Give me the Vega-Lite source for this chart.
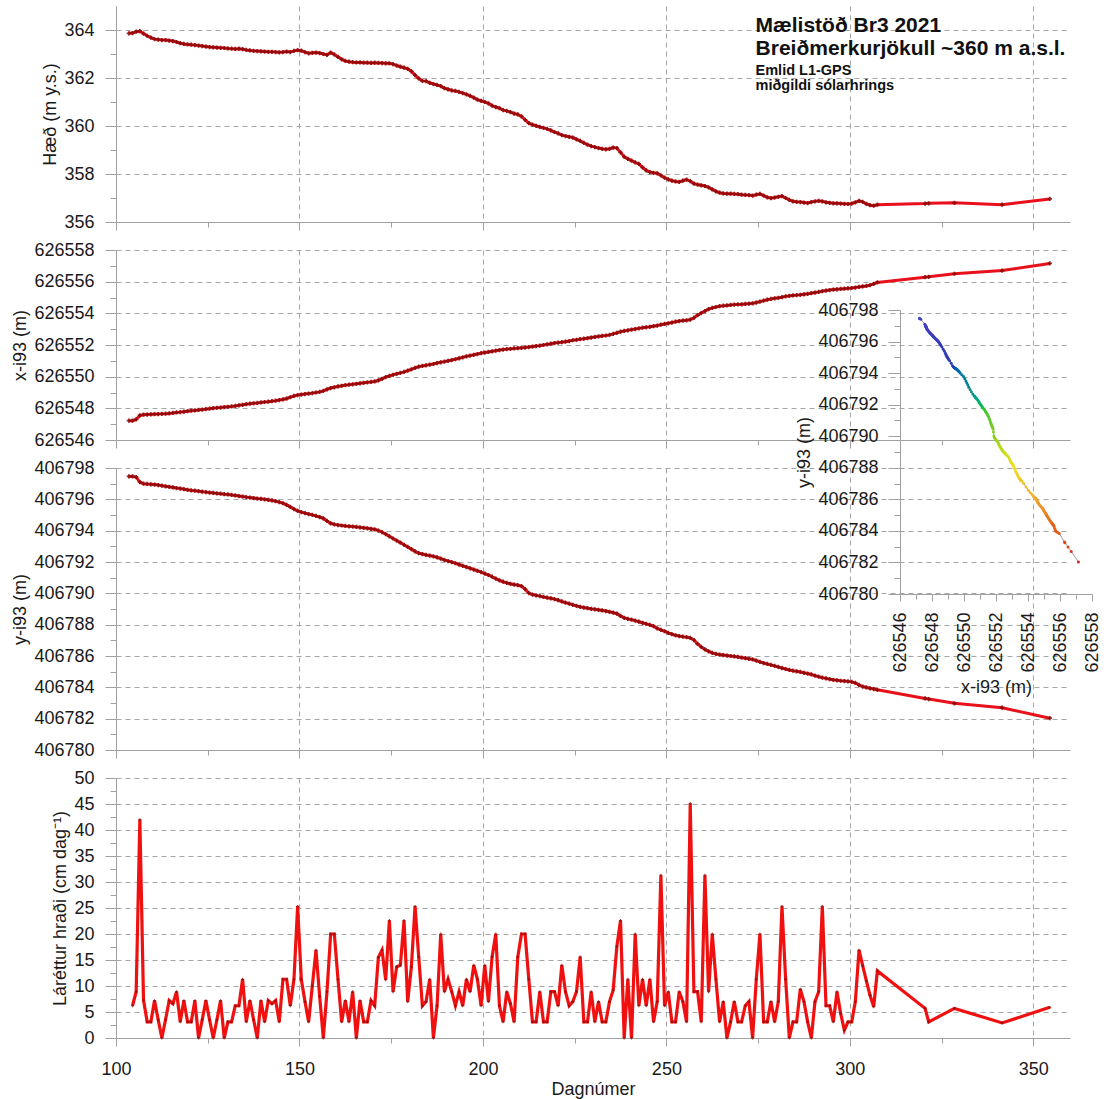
{
"$schema": "https://vega.github.io/schema/vega-lite/v6.json",
"padding": {"left": 11, "top": 6, "right": 5, "bottom": 2},
"autosize": {"type": "pad"},
"spacing": 28,
"bounds": "flush",
"config": {
  "font": "Liberation Sans",
  "view": {"stroke": null},
  "axis": {"labelFont": "Liberation Sans", "titleFont": "Liberation Sans", "labelFontSize": 18, "titleFontSize": 18, "titleFontWeight": "normal", "labelColor": "#1a1a1a", "titleColor": "#1a1a1a", "domainColor": "#a0a0a0", "tickColor": "#a0a0a0", "gridColor": "#a6a6a6", "gridDash": [5, 4], "gridWidth": 1, "labelOverlap": false, "labelFlush": false}
},
"datasets": {
"gps": [
{"day":103.5,"h":363.86,"x":626547.22,"y":406797.47},
{"day":104.5,"h":363.87,"x":626547.22,"y":406797.46},
{"day":105.5,"h":363.93,"x":626547.30,"y":406797.42},
{"day":106.5,"h":363.95,"x":626547.55,"y":406797.10},
{"day":107.5,"h":363.85,"x":626547.60,"y":406797.00},
{"day":108.5,"h":363.76,"x":626547.61,"y":406796.98},
{"day":109.5,"h":363.68,"x":626547.62,"y":406796.96},
{"day":110.5,"h":363.62,"x":626547.63,"y":406796.94},
{"day":111.5,"h":363.60,"x":626547.64,"y":406796.91},
{"day":112.5,"h":363.58,"x":626547.65,"y":406796.87},
{"day":113.5,"h":363.58,"x":626547.66,"y":406796.83},
{"day":114.5,"h":363.56,"x":626547.68,"y":406796.80},
{"day":115.5,"h":363.54,"x":626547.71,"y":406796.76},
{"day":116.5,"h":363.50,"x":626547.74,"y":406796.72},
{"day":117.5,"h":363.45,"x":626547.76,"y":406796.69},
{"day":118.5,"h":363.42,"x":626547.79,"y":406796.65},
{"day":119.5,"h":363.40,"x":626547.82,"y":406796.61},
{"day":120.5,"h":363.39,"x":626547.85,"y":406796.57},
{"day":121.5,"h":363.37,"x":626547.87,"y":406796.55},
{"day":122.5,"h":363.35,"x":626547.90,"y":406796.52},
{"day":123.5,"h":363.33,"x":626547.92,"y":406796.49},
{"day":124.5,"h":363.31,"x":626547.95,"y":406796.46},
{"day":125.5,"h":363.29,"x":626547.98,"y":406796.43},
{"day":126.5,"h":363.28,"x":626548.01,"y":406796.41},
{"day":127.5,"h":363.27,"x":626548.03,"y":406796.38},
{"day":128.5,"h":363.26,"x":626548.05,"y":406796.36},
{"day":129.5,"h":363.25,"x":626548.08,"y":406796.33},
{"day":130.5,"h":363.23,"x":626548.10,"y":406796.31},
{"day":131.5,"h":363.22,"x":626548.12,"y":406796.28},
{"day":132.5,"h":363.21,"x":626548.15,"y":406796.25},
{"day":133.5,"h":363.22,"x":626548.19,"y":406796.21},
{"day":134.5,"h":363.20,"x":626548.22,"y":406796.18},
{"day":135.5,"h":363.17,"x":626548.26,"y":406796.14},
{"day":136.5,"h":363.15,"x":626548.29,"y":406796.11},
{"day":137.5,"h":363.13,"x":626548.32,"y":406796.08},
{"day":138.5,"h":363.12,"x":626548.34,"y":406796.05},
{"day":139.5,"h":363.11,"x":626548.37,"y":406796.03},
{"day":140.5,"h":363.10,"x":626548.40,"y":406796.00},
{"day":141.5,"h":363.09,"x":626548.42,"y":406795.97},
{"day":142.5,"h":363.09,"x":626548.45,"y":406795.93},
{"day":143.5,"h":363.08,"x":626548.48,"y":406795.88},
{"day":144.5,"h":363.07,"x":626548.52,"y":406795.82},
{"day":145.5,"h":363.08,"x":626548.56,"y":406795.75},
{"day":146.5,"h":363.10,"x":626548.62,"y":406795.65},
{"day":147.5,"h":363.08,"x":626548.70,"y":406795.52},
{"day":148.5,"h":363.13,"x":626548.78,"y":406795.38},
{"day":149.5,"h":363.16,"x":626548.84,"y":406795.26},
{"day":150.5,"h":363.14,"x":626548.87,"y":406795.18},
{"day":151.5,"h":363.08,"x":626548.90,"y":406795.12},
{"day":152.5,"h":363.03,"x":626548.93,"y":406795.06},
{"day":153.5,"h":363.05,"x":626548.96,"y":406795.01},
{"day":154.5,"h":363.06,"x":626549.00,"y":406794.94},
{"day":155.5,"h":363.04,"x":626549.04,"y":406794.87},
{"day":156.5,"h":363.00,"x":626549.10,"y":406794.78},
{"day":157.5,"h":362.96,"x":626549.20,"y":406794.62},
{"day":158.5,"h":363.06,"x":626549.28,"y":406794.47},
{"day":159.5,"h":362.98,"x":626549.33,"y":406794.40},
{"day":160.5,"h":362.88,"x":626549.38,"y":406794.36},
{"day":161.5,"h":362.78,"x":626549.42,"y":406794.33},
{"day":162.5,"h":362.71,"x":626549.46,"y":406794.30},
{"day":163.5,"h":362.68,"x":626549.49,"y":406794.28},
{"day":164.5,"h":362.66,"x":626549.52,"y":406794.26},
{"day":165.5,"h":362.65,"x":626549.55,"y":406794.24},
{"day":166.5,"h":362.65,"x":626549.58,"y":406794.21},
{"day":167.5,"h":362.64,"x":626549.61,"y":406794.18},
{"day":168.5,"h":362.64,"x":626549.64,"y":406794.15},
{"day":169.5,"h":362.63,"x":626549.67,"y":406794.12},
{"day":170.5,"h":362.64,"x":626549.70,"y":406794.08},
{"day":171.5,"h":362.63,"x":626549.76,"y":406794.01},
{"day":172.5,"h":362.62,"x":626549.86,"y":406793.90},
{"day":173.5,"h":362.61,"x":626549.97,"y":406793.78},
{"day":174.5,"h":362.61,"x":626550.05,"y":406793.64},
{"day":175.5,"h":362.58,"x":626550.12,"y":406793.50},
{"day":176.5,"h":362.52,"x":626550.18,"y":406793.37},
{"day":177.5,"h":362.47,"x":626550.24,"y":406793.24},
{"day":178.5,"h":362.43,"x":626550.30,"y":406793.10},
{"day":179.5,"h":362.38,"x":626550.38,"y":406792.96},
{"day":180.5,"h":362.28,"x":626550.46,"y":406792.82},
{"day":181.5,"h":362.12,"x":626550.55,"y":406792.68},
{"day":182.5,"h":361.98,"x":626550.63,"y":406792.56},
{"day":183.5,"h":361.88,"x":626550.68,"y":406792.51},
{"day":184.5,"h":361.87,"x":626550.72,"y":406792.45},
{"day":185.5,"h":361.80,"x":626550.76,"y":406792.41},
{"day":186.5,"h":361.75,"x":626550.80,"y":406792.36},
{"day":187.5,"h":361.71,"x":626550.86,"y":406792.30},
{"day":188.5,"h":361.66,"x":626550.91,"y":406792.22},
{"day":189.5,"h":361.58,"x":626550.95,"y":406792.14},
{"day":190.5,"h":361.53,"x":626551.00,"y":406792.06},
{"day":191.5,"h":361.48,"x":626551.05,"y":406791.99},
{"day":192.5,"h":361.46,"x":626551.10,"y":406791.92},
{"day":193.5,"h":361.42,"x":626551.16,"y":406791.84},
{"day":194.5,"h":361.37,"x":626551.22,"y":406791.76},
{"day":195.5,"h":361.32,"x":626551.28,"y":406791.68},
{"day":196.5,"h":361.26,"x":626551.33,"y":406791.60},
{"day":197.5,"h":361.18,"x":626551.38,"y":406791.52},
{"day":198.5,"h":361.10,"x":626551.43,"y":406791.44},
{"day":199.5,"h":361.05,"x":626551.48,"y":406791.35},
{"day":200.5,"h":361.00,"x":626551.52,"y":406791.26},
{"day":201.5,"h":360.94,"x":626551.56,"y":406791.17},
{"day":202.5,"h":360.85,"x":626551.60,"y":406791.06},
{"day":203.5,"h":360.79,"x":626551.64,"y":406790.94},
{"day":204.5,"h":360.74,"x":626551.68,"y":406790.83},
{"day":205.5,"h":360.66,"x":626551.71,"y":406790.74},
{"day":206.5,"h":360.63,"x":626551.74,"y":406790.67},
{"day":207.5,"h":360.58,"x":626551.76,"y":406790.61},
{"day":208.5,"h":360.52,"x":626551.78,"y":406790.56},
{"day":209.5,"h":360.48,"x":626551.80,"y":406790.52},
{"day":210.5,"h":360.40,"x":626551.82,"y":406790.46},
{"day":211.5,"h":360.26,"x":626551.84,"y":406790.27},
{"day":212.5,"h":360.12,"x":626551.87,"y":406790.02},
{"day":213.5,"h":360.06,"x":626551.90,"y":406789.92},
{"day":214.5,"h":360.01,"x":626551.93,"y":406789.87},
{"day":215.5,"h":359.96,"x":626551.96,"y":406789.82},
{"day":216.5,"h":359.92,"x":626552.00,"y":406789.77},
{"day":217.5,"h":359.88,"x":626552.04,"y":406789.72},
{"day":218.5,"h":359.82,"x":626552.08,"y":406789.68},
{"day":219.5,"h":359.75,"x":626552.12,"y":406789.63},
{"day":220.5,"h":359.69,"x":626552.15,"y":406789.56},
{"day":221.5,"h":359.62,"x":626552.18,"y":406789.48},
{"day":222.5,"h":359.58,"x":626552.21,"y":406789.41},
{"day":223.5,"h":359.55,"x":626552.25,"y":406789.34},
{"day":224.5,"h":359.52,"x":626552.30,"y":406789.27},
{"day":225.5,"h":359.44,"x":626552.33,"y":406789.20},
{"day":226.5,"h":359.38,"x":626552.37,"y":406789.14},
{"day":227.5,"h":359.30,"x":626552.40,"y":406789.09},
{"day":228.5,"h":359.22,"x":626552.43,"y":406789.05},
{"day":229.5,"h":359.16,"x":626552.47,"y":406789.01},
{"day":230.5,"h":359.12,"x":626552.51,"y":406788.98},
{"day":231.5,"h":359.08,"x":626552.54,"y":406788.95},
{"day":232.5,"h":359.05,"x":626552.57,"y":406788.91},
{"day":233.5,"h":359.03,"x":626552.60,"y":406788.87},
{"day":234.5,"h":359.05,"x":626552.64,"y":406788.82},
{"day":235.5,"h":359.10,"x":626552.70,"y":406788.77},
{"day":236.5,"h":359.08,"x":626552.77,"y":406788.70},
{"day":237.5,"h":358.90,"x":626552.84,"y":406788.56},
{"day":238.5,"h":358.72,"x":626552.89,"y":406788.44},
{"day":239.5,"h":358.63,"x":626552.93,"y":406788.37},
{"day":240.5,"h":358.56,"x":626552.97,"y":406788.32},
{"day":241.5,"h":358.48,"x":626553.01,"y":406788.26},
{"day":242.5,"h":358.42,"x":626553.05,"y":406788.19},
{"day":243.5,"h":358.28,"x":626553.09,"y":406788.12},
{"day":244.5,"h":358.15,"x":626553.12,"y":406788.05},
{"day":245.5,"h":358.08,"x":626553.15,"y":406787.98},
{"day":246.5,"h":358.05,"x":626553.19,"y":406787.90},
{"day":247.5,"h":358.03,"x":626553.23,"y":406787.76},
{"day":248.5,"h":357.94,"x":626553.28,"y":406787.67},
{"day":249.5,"h":357.85,"x":626553.33,"y":406787.58},
{"day":250.5,"h":357.78,"x":626553.37,"y":406787.48},
{"day":251.5,"h":357.72,"x":626553.42,"y":406787.39},
{"day":252.5,"h":357.69,"x":626553.47,"y":406787.32},
{"day":253.5,"h":357.67,"x":626553.51,"y":406787.27},
{"day":254.5,"h":357.72,"x":626553.54,"y":406787.23},
{"day":255.5,"h":357.77,"x":626553.56,"y":406787.20},
{"day":256.5,"h":357.70,"x":626553.60,"y":406787.16},
{"day":257.5,"h":357.60,"x":626553.72,"y":406787.02},
{"day":258.5,"h":357.56,"x":626553.88,"y":406786.78},
{"day":259.5,"h":357.53,"x":626554.02,"y":406786.58},
{"day":260.5,"h":357.50,"x":626554.14,"y":406786.42},
{"day":261.5,"h":357.44,"x":626554.26,"y":406786.30},
{"day":262.5,"h":357.36,"x":626554.34,"y":406786.20},
{"day":263.5,"h":357.28,"x":626554.40,"y":406786.13},
{"day":264.5,"h":357.22,"x":626554.45,"y":406786.09},
{"day":265.5,"h":357.19,"x":626554.48,"y":406786.06},
{"day":266.5,"h":357.18,"x":626554.50,"y":406786.03},
{"day":267.5,"h":357.18,"x":626554.53,"y":406786.00},
{"day":268.5,"h":357.17,"x":626554.55,"y":406785.97},
{"day":269.5,"h":357.16,"x":626554.56,"y":406785.94},
{"day":270.5,"h":357.14,"x":626554.57,"y":406785.90},
{"day":271.5,"h":357.13,"x":626554.59,"y":406785.86},
{"day":272.5,"h":357.12,"x":626554.61,"y":406785.82},
{"day":273.5,"h":357.10,"x":626554.63,"y":406785.78},
{"day":274.5,"h":357.14,"x":626554.68,"y":406785.71},
{"day":275.5,"h":357.17,"x":626554.74,"y":406785.62},
{"day":276.5,"h":357.10,"x":626554.80,"y":406785.55},
{"day":277.5,"h":357.03,"x":626554.86,"y":406785.49},
{"day":278.5,"h":356.99,"x":626554.91,"y":406785.43},
{"day":279.5,"h":357.02,"x":626554.95,"y":406785.37},
{"day":280.5,"h":357.05,"x":626554.98,"y":406785.30},
{"day":281.5,"h":357.08,"x":626555.02,"y":406785.23},
{"day":282.5,"h":357.00,"x":626555.07,"y":406785.17},
{"day":283.5,"h":356.92,"x":626555.11,"y":406785.11},
{"day":284.5,"h":356.86,"x":626555.13,"y":406785.06},
{"day":285.5,"h":356.84,"x":626555.15,"y":406785.02},
{"day":286.5,"h":356.83,"x":626555.17,"y":406784.98},
{"day":287.5,"h":356.81,"x":626555.20,"y":406784.93},
{"day":288.5,"h":356.79,"x":626555.23,"y":406784.88},
{"day":289.5,"h":356.83,"x":626555.27,"y":406784.82},
{"day":290.5,"h":356.86,"x":626555.31,"y":406784.75},
{"day":291.5,"h":356.88,"x":626555.35,"y":406784.68},
{"day":292.5,"h":356.86,"x":626555.40,"y":406784.62},
{"day":293.5,"h":356.82,"x":626555.44,"y":406784.57},
{"day":294.5,"h":356.80,"x":626555.47,"y":406784.52},
{"day":295.5,"h":356.78,"x":626555.50,"y":406784.48},
{"day":296.5,"h":356.78,"x":626555.52,"y":406784.45},
{"day":297.5,"h":356.77,"x":626555.54,"y":406784.42},
{"day":298.5,"h":356.76,"x":626555.56,"y":406784.40},
{"day":299.5,"h":356.75,"x":626555.58,"y":406784.38},
{"day":300.5,"h":356.77,"x":626555.60,"y":406784.35},
{"day":301.5,"h":356.82,"x":626555.63,"y":406784.28},
{"day":302.5,"h":356.88,"x":626555.67,"y":406784.15},
{"day":303.5,"h":356.84,"x":626555.70,"y":406784.05},
{"day":304.5,"h":356.76,"x":626555.73,"y":406783.99},
{"day":305.5,"h":356.70,"x":626555.78,"y":406783.94},
{"day":306.5,"h":356.68,"x":626555.86,"y":406783.89},
{"day":307.5,"h":356.72,"x":626555.95,"y":406783.84},
{"day":320.5,"h":356.77,"x":626556.28,"y":406783.29},
{"day":321.5,"h":356.78,"x":626556.31,"y":406783.25},
{"day":328.5,"h":356.80,"x":626556.50,"y":406782.98},
{"day":341.5,"h":356.72,"x":626556.70,"y":406782.70},
{"day":354.5,"h":356.96,"x":626557.15,"y":406782.03}
],
"spd": [
{"day":104.5,"v":6.2},{"day":105.5,"v":8.9},{"day":106.5,"v":42},{"day":107.5,"v":7.3},{"day":108.5,"v":3.1},{"day":109.5,"v":3.1},{"day":110.5,"v":7.2},{"day":111.5,"v":3.5},{"day":112.5,"v":0},{"day":113.5,"v":3.5},
{"day":114.5,"v":7.2},{"day":115.5,"v":6.6},{"day":116.5,"v":8.9},{"day":117.5,"v":3.1},{"day":118.5,"v":7.2},{"day":119.5,"v":3.1},{"day":120.5,"v":3.1},{"day":121.5,"v":7.2},{"day":122.5,"v":0},{"day":123.5,"v":3.5},
{"day":124.5,"v":7.2},{"day":125.5,"v":3.5},{"day":126.5,"v":0},{"day":127.5,"v":3.5},{"day":128.5,"v":7.2},{"day":129.5,"v":0},{"day":130.5,"v":3.1},{"day":131.5,"v":3.1},{"day":132.5,"v":6.2},{"day":133.5,"v":6.2},
{"day":134.5,"v":11.3},{"day":135.5,"v":3.1},{"day":136.5,"v":7.2},{"day":137.5,"v":3.5},{"day":138.5,"v":0},{"day":139.5,"v":7.2},{"day":140.5,"v":3.1},{"day":141.5,"v":7.2},{"day":142.5,"v":6.6},{"day":143.5,"v":7.2},
{"day":144.5,"v":3.1},{"day":145.5,"v":11.3},{"day":146.5,"v":11.3},{"day":147.5,"v":6.2},{"day":148.5,"v":11.3},{"day":149.5,"v":25.3},{"day":150.5,"v":11.3},{"day":151.5,"v":7},{"day":152.5,"v":3.1},{"day":153.5,"v":10},
{"day":154.5,"v":16.9},{"day":155.5,"v":8},{"day":156.5,"v":0},{"day":157.5,"v":8.9},{"day":158.5,"v":20},{"day":159.5,"v":20},{"day":160.5,"v":11.3},{"day":161.5,"v":3.1},{"day":162.5,"v":7.2},{"day":163.5,"v":3.1},
{"day":164.5,"v":8.9},{"day":165.5,"v":0},{"day":166.5,"v":7.2},{"day":167.5,"v":3.1},{"day":168.5,"v":3.1},{"day":169.5,"v":7.2},{"day":170.5,"v":6.2},{"day":171.5,"v":15.5},{"day":172.5,"v":16.9},{"day":173.5,"v":11.2},
{"day":174.5,"v":22.6},{"day":175.5,"v":8.9},{"day":176.5,"v":13.7},{"day":177.5,"v":14},{"day":178.5,"v":22.6},{"day":179.5,"v":7},{"day":180.5,"v":13.7},{"day":181.5,"v":25.3},{"day":182.5,"v":15.6},{"day":183.5,"v":6.2},
{"day":184.5,"v":7},{"day":185.5,"v":11.3},{"day":186.5,"v":0},{"day":187.5,"v":6.2},{"day":188.5,"v":20},{"day":189.5,"v":8.9},{"day":190.5,"v":11.3},{"day":191.5,"v":8.9},{"day":192.5,"v":6.2},{"day":193.5,"v":8.9},
{"day":194.5,"v":6.2},{"day":195.5,"v":11.3},{"day":196.5,"v":8.9},{"day":197.5,"v":14},{"day":198.5,"v":11.3},{"day":199.5,"v":6.2},{"day":200.5,"v":14},{"day":201.5,"v":7},{"day":202.5,"v":15.6},{"day":203.5,"v":20},
{"day":204.5,"v":6.2},{"day":205.5,"v":3.1},{"day":206.5,"v":8.9},{"day":207.5,"v":6.6},{"day":208.5,"v":3.1},{"day":209.5,"v":15.6},{"day":210.5,"v":20},{"day":211.5,"v":20},{"day":212.5,"v":11.3},{"day":213.5,"v":3.1},
{"day":214.5,"v":3.1},{"day":215.5,"v":8.9},{"day":216.5,"v":3.1},{"day":217.5,"v":3.1},{"day":218.5,"v":8.9},{"day":219.5,"v":8.9},{"day":220.5,"v":6.2},{"day":221.5,"v":14},{"day":222.5,"v":8.9},{"day":223.5,"v":6.2},
{"day":224.5,"v":7},{"day":225.5,"v":8.9},{"day":226.5,"v":15.6},{"day":227.5,"v":3.1},{"day":228.5,"v":3.1},{"day":229.5,"v":8.9},{"day":230.5,"v":3.1},{"day":231.5,"v":7},{"day":232.5,"v":3.1},{"day":233.5,"v":3.1},
{"day":234.5,"v":7},{"day":235.5,"v":9.2},{"day":236.5,"v":17.6},{"day":237.5,"v":22.6},{"day":238.5,"v":0},{"day":239.5,"v":11.3},{"day":240.5,"v":0},{"day":241.5,"v":20},{"day":242.5,"v":6.2},{"day":243.5,"v":11.3},
{"day":244.5,"v":6.2},{"day":245.5,"v":11.3},{"day":246.5,"v":3.1},{"day":247.5,"v":7},{"day":248.5,"v":31.3},{"day":249.5,"v":6.2},{"day":250.5,"v":8.9},{"day":251.5,"v":3.1},{"day":252.5,"v":3.1},{"day":253.5,"v":8.9},
{"day":254.5,"v":7},{"day":255.5,"v":3.1},{"day":256.5,"v":45.1},{"day":257.5,"v":8.9},{"day":258.5,"v":8.9},{"day":259.5,"v":3.1},{"day":260.5,"v":31.3},{"day":261.5,"v":8.9},{"day":262.5,"v":20},{"day":263.5,"v":11.3},
{"day":264.5,"v":3.1},{"day":265.5,"v":7},{"day":266.5,"v":0},{"day":267.5,"v":3.1},{"day":268.5,"v":7},{"day":269.5,"v":3.1},{"day":270.5,"v":3.1},{"day":271.5,"v":6.2},{"day":272.5,"v":7},{"day":273.5,"v":0},
{"day":274.5,"v":11.3},{"day":275.5,"v":20},{"day":276.5,"v":3.1},{"day":277.5,"v":3.1},{"day":278.5,"v":7},{"day":279.5,"v":3.1},{"day":280.5,"v":7},{"day":281.5,"v":25.3},{"day":282.5,"v":11.3},{"day":283.5,"v":0},
{"day":284.5,"v":3.1},{"day":285.5,"v":3.1},{"day":286.5,"v":9.4},{"day":287.5,"v":7},{"day":288.5,"v":3.1},{"day":289.5,"v":0},{"day":290.5,"v":7},{"day":291.5,"v":8.9},{"day":292.5,"v":25.3},{"day":293.5,"v":6.2},
{"day":294.5,"v":6.2},{"day":295.5,"v":3.1},{"day":296.5,"v":8.9},{"day":297.5,"v":4.7},{"day":298.5,"v":1.5},{"day":299.5,"v":3.1},{"day":300.5,"v":3.1},{"day":301.5,"v":7},{"day":302.5,"v":16.9},{"day":303.5,"v":13.9},
{"day":304.5,"v":11},{"day":305.5,"v":8.2},{"day":306.5,"v":6},{"day":307.5,"v":12.9},{"day":320.5,"v":5.7},{"day":321.5,"v":3.1},{"day":328.5,"v":5.7},{"day":341.5,"v":2.9},{"day":354.5,"v":5.9}
]
},
"vconcat": [
{
  "width": 954, "height": 216,
  "data": {"name": "gps"},
  "layer": [
    {"mark": {"type": "line", "color": "#e8101a", "strokeWidth": 3},
     "encoding": {
       "x": {"field": "day", "type": "quantitative", "scale": {"domain": [100, 360], "nice": false, "zero": false},
             "axis": {"orient": "bottom", "values": [100, 150, 200, 250, 300, 350], "labels": false, "title": null, "tickSize": 8, "grid": true}},
       "y": {"field": "h", "type": "quantitative", "scale": {"domain": [356, 365], "nice": false, "zero": false},
             "axis": {"orient": "left", "values": [356, 358, 360, 362, 364], "title": "Hæð (m y.s.)", "tickSize": 11, "labelPadding": 11, "titlePadding": 4, "grid": true}}
     }},
    {"mark": {"type": "point", "shape": "cross", "filled": true, "size": 18, "color": "#8b0a0a", "opacity": 0.9},
     "encoding": {
       "x": {"field": "day", "type": "quantitative", "axis": {"orient": "bottom", "values": [125, 175, 225, 275, 325], "labels": false, "title": null, "tickSize": 5, "grid": false, "domain": false}},
       "y": {"field": "h", "type": "quantitative", "axis": {"orient": "left", "values": [357, 359, 361, 363], "labels": false, "title": null, "tickSize": 6, "grid": false, "domain": false}}
     }},
    {"data": {"values": [{"t": "Mælistöð Br3 2021\nBreiðmerkurjökull ~360 m a.s.l."}]},
     "mark": {"type": "text", "align": "left", "baseline": "alphabetic", "fontSize": 21, "fontWeight": "bold", "lineBreak": "\n", "lineHeight": 23, "color": "#111111"},
     "encoding": {
       "x": {"datum": 274.3, "type": "quantitative", "axis": null},
       "y": {"datum": 363.92, "type": "quantitative", "axis": null},
       "text": {"field": "t"}
     }},
    {"data": {"values": [{"t": "Emlid L1-GPS\nmiðgildi sólarhrings"}]},
     "mark": {"type": "text", "align": "left", "baseline": "alphabetic", "fontSize": 14.5, "fontWeight": "bold", "lineBreak": "\n", "lineHeight": 15, "color": "#111111"},
     "encoding": {
       "x": {"datum": 274.3, "type": "quantitative", "axis": null},
       "y": {"datum": 362.13, "type": "quantitative", "axis": null},
       "text": {"field": "t"}
     }}
  ],
  "resolve": {"axis": {"x": "independent", "y": "independent"}}
},
{
  "width": 954, "height": 190,
  "data": {"name": "gps"},
  "layer": [
    {"mark": {"type": "line", "color": "#e8101a", "strokeWidth": 3},
     "encoding": {
       "x": {"field": "day", "type": "quantitative", "scale": {"domain": [100, 360], "nice": false, "zero": false},
             "axis": {"orient": "bottom", "values": [100, 150, 200, 250, 300, 350], "labels": false, "title": null, "tickSize": 8, "grid": true}},
       "y": {"field": "x", "type": "quantitative", "scale": {"domain": [626546, 626558], "nice": false, "zero": false},
             "axis": {"orient": "left", "values": [626546, 626548, 626550, 626552, 626554, 626556, 626558], "format": "d", "title": "x-i93 (m)", "tickSize": 11, "labelPadding": 11, "titlePadding": 4, "grid": true}}
     }},
    {"mark": {"type": "point", "shape": "cross", "filled": true, "size": 18, "color": "#8b0a0a", "opacity": 0.9},
     "encoding": {
       "x": {"field": "day", "type": "quantitative", "axis": {"orient": "bottom", "values": [125, 175, 225, 275, 325], "labels": false, "title": null, "tickSize": 5, "grid": false, "domain": false}},
       "y": {"field": "x", "type": "quantitative", "axis": {"orient": "left", "values": [626547, 626549, 626551, 626553, 626555, 626557], "labels": false, "title": null, "tickSize": 6, "grid": false, "domain": false}}
     }}
  ],
  "resolve": {"axis": {"x": "independent", "y": "independent"}}
},
{
  "width": 954, "height": 282,
  "data": {"name": "gps"},
  "layer": [
    {
      "layer": [
        {"mark": {"type": "line", "color": "#e8101a", "strokeWidth": 3},
         "encoding": {
           "x": {"field": "day", "type": "quantitative", "scale": {"domain": [100, 360], "nice": false, "zero": false},
                 "axis": {"orient": "bottom", "values": [100, 150, 200, 250, 300, 350], "labels": false, "title": null, "tickSize": 8, "grid": true}},
           "y": {"field": "y", "type": "quantitative", "scale": {"domain": [406780, 406798], "nice": false, "zero": false},
                 "axis": {"orient": "left", "values": [406780, 406782, 406784, 406786, 406788, 406790, 406792, 406794, 406796, 406798], "format": "d", "title": "y-i93 (m)", "tickSize": 11, "labelPadding": 11, "titlePadding": 4, "grid": true}}
         }},
        {"mark": {"type": "point", "shape": "cross", "filled": true, "size": 18, "color": "#8b0a0a", "opacity": 0.9},
         "encoding": {
           "x": {"field": "day", "type": "quantitative", "axis": {"orient": "bottom", "values": [125, 175, 225, 275, 325], "labels": false, "title": null, "tickSize": 5, "grid": false, "domain": false}},
           "y": {"field": "y", "type": "quantitative", "axis": {"orient": "left", "values": [406781, 406783, 406785, 406787, 406789, 406791, 406793, 406795, 406797], "labels": false, "title": null, "tickSize": 6, "grid": false, "domain": false}}
         }}
      ],
      "resolve": {"axis": {"x": "independent", "y": "independent"}}
    },
    {
      "layer": [
        {"mark": {"type": "line", "color": "#9a9a9a", "strokeWidth": 1},
         "encoding": {
           "x": {"field": "x", "type": "quantitative", "scale": {"domain": [626546, 626558], "range": [784, 976], "nice": false, "zero": false},
                 "axis": {"orient": "bottom", "offset": -156, "values": [626546, 626548, 626550, 626552, 626554, 626556, 626558], "format": "d", "labelAngle": -90, "title": "x-i93 (m)", "tickSize": 7, "labelPadding": 11, "titlePadding": 6, "grid": false}},
           "y": {"field": "y", "type": "quantitative", "scale": {"domain": [406780, 406798], "range": [126, -158], "nice": false, "zero": false},
                 "axis": {"orient": "left", "offset": -784, "values": [406780, 406782, 406784, 406786, 406788, 406790, 406792, 406794, 406796, 406798], "format": "d", "title": "y-i93 (m)", "tickSize": 12, "labelPadding": 10, "titlePadding": 4, "grid": false}},
           "order": {"field": "day", "type": "quantitative"}
         }},
        {"mark": {"type": "circle", "size": 9, "opacity": 1},
         "encoding": {
           "x": {"field": "x", "type": "quantitative", "axis": {"orient": "bottom", "offset": -156, "values": [626547, 626549, 626551, 626553, 626555, 626557], "labels": false, "title": null, "tickSize": 5, "grid": false, "domain": false}},
           "y": {"field": "y", "type": "quantitative", "axis": {"orient": "left", "offset": -784, "values": [406781, 406783, 406785, 406787, 406789, 406791, 406793, 406795, 406797], "labels": false, "title": null, "tickSize": 6, "grid": false, "domain": false}},
           "color": {"field": "day", "type": "quantitative", "legend": null,
                     "scale": {"domain": [103, 160, 180, 195, 220, 245, 270, 300, 355], "range": ["#4a3fc4", "#2b3db3", "#2a8a8a", "#2fc232", "#a6d61e", "#f0e020", "#f0a030", "#e5601e", "#d02020"]}}
         }}
      ],
      "resolve": {"axis": {"x": "independent", "y": "independent"}}
    }
  ],
  "resolve": {"scale": {"x": "independent", "y": "independent"}, "axis": {"x": "independent", "y": "independent"}}
},
{
  "width": 954, "height": 260,
  "data": {"name": "spd"},
  "layer": [
    {"mark": {"type": "line", "color": "#f01010", "strokeWidth": 3.2},
     "encoding": {
       "x": {"field": "day", "type": "quantitative", "scale": {"domain": [100, 360], "nice": false, "zero": false},
             "axis": {"orient": "bottom", "values": [100, 150, 200, 250, 300, 350], "title": "Dagnúmer", "tickSize": 8, "labelPadding": 14, "titlePadding": 2, "grid": true}},
       "y": {"field": "v", "type": "quantitative", "scale": {"domain": [0, 50], "nice": false},
             "axis": {"orient": "left", "values": [0, 5, 10, 15, 20, 25, 30, 35, 40, 45, 50], "title": "Láréttur hraði (cm dag⁻¹)", "tickSize": 11, "labelPadding": 11, "titlePadding": 4, "grid": true}}
     }},
    {"mark": {"type": "point", "shape": "cross", "filled": true, "size": 8, "color": "#8b0a0a", "opacity": 0.8},
     "encoding": {
       "x": {"field": "day", "type": "quantitative", "axis": {"orient": "bottom", "values": [125, 175, 225, 275, 325], "labels": false, "title": null, "tickSize": 5, "grid": false, "domain": false}},
       "y": {"field": "v", "type": "quantitative", "axis": {"orient": "left", "values": [2.5, 7.5, 12.5, 17.5, 22.5, 27.5, 32.5, 37.5, 42.5, 47.5], "labels": false, "title": null, "tickSize": 6, "grid": false, "domain": false}}
     }}
  ],
  "resolve": {"axis": {"x": "independent", "y": "independent"}}
}
]
}
